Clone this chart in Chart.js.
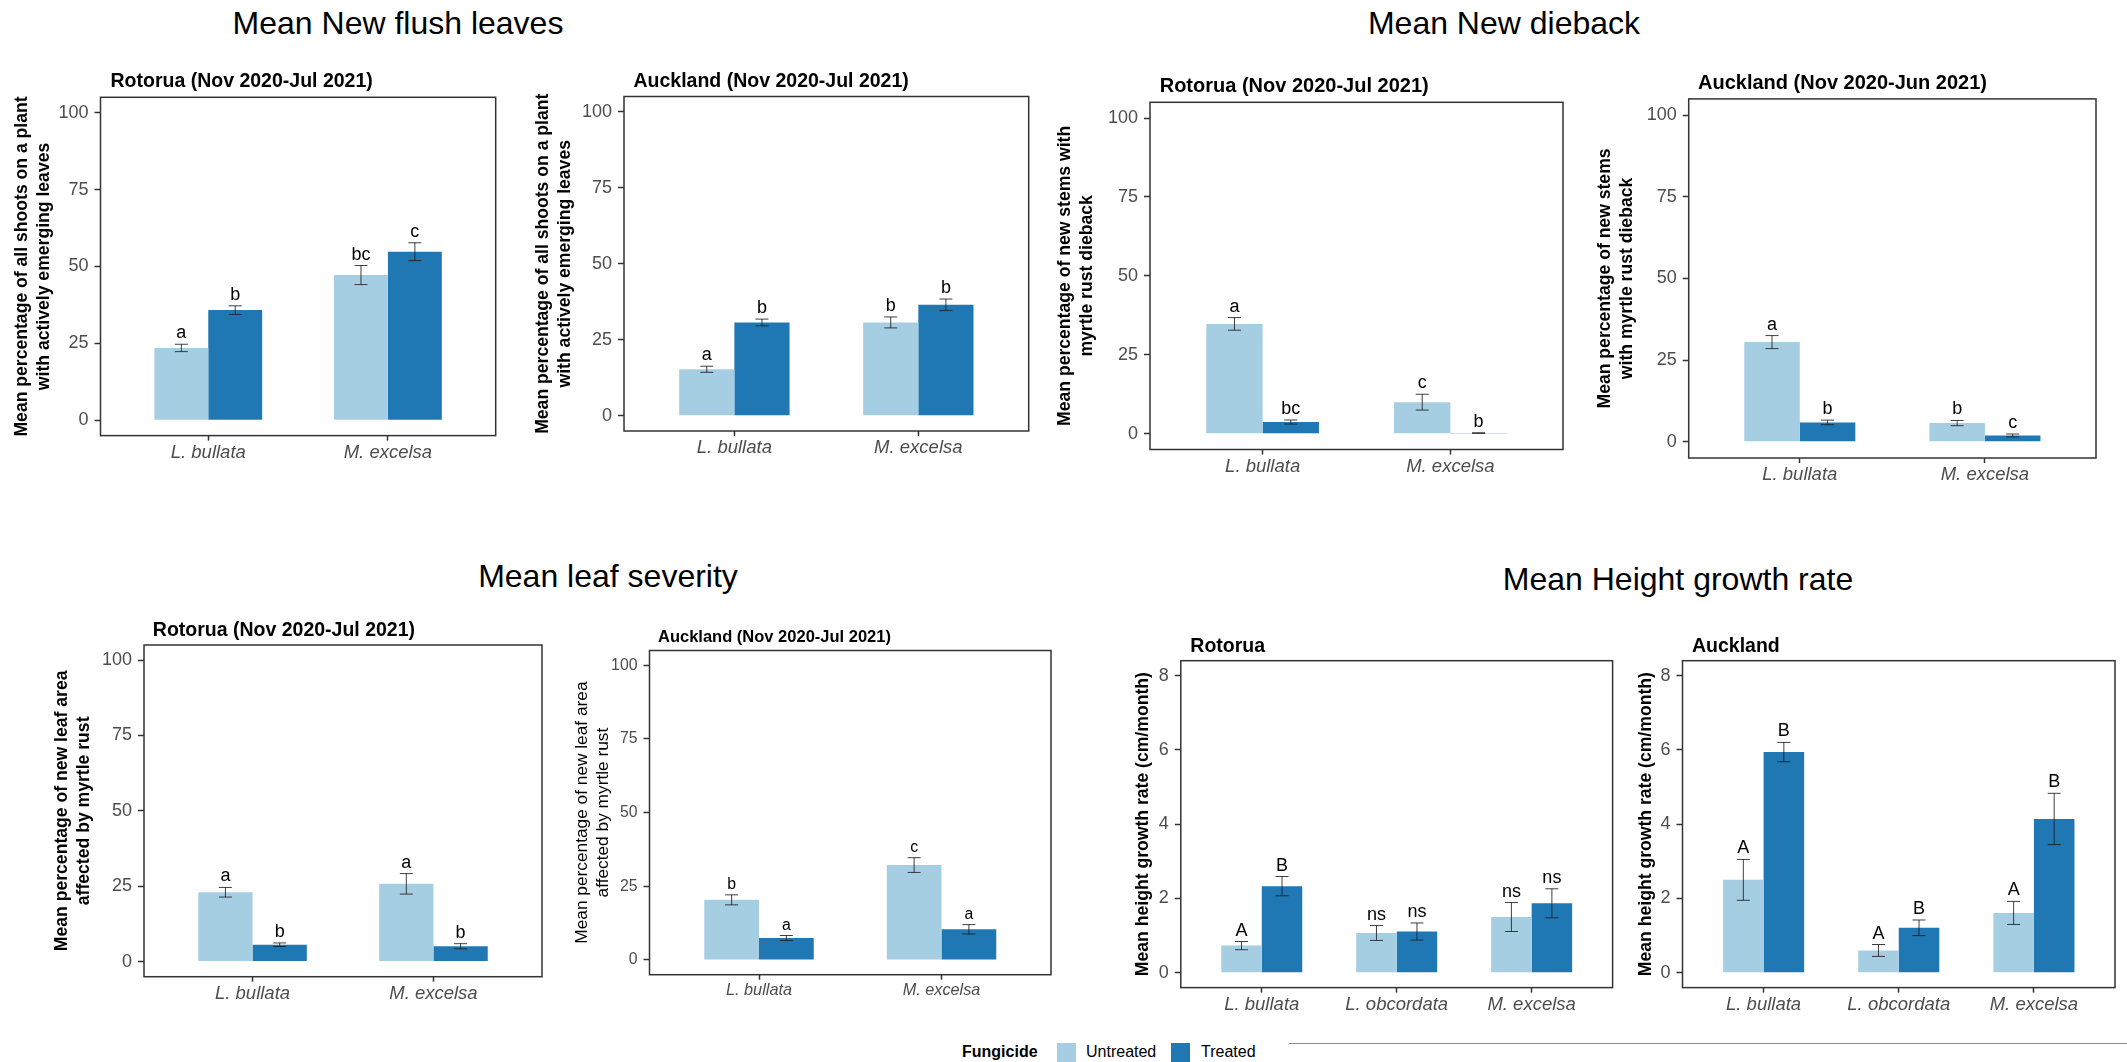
<!DOCTYPE html>
<html>
<head>
<meta charset="utf-8">
<script src="https://cdn.jsdelivr.net/npm/chart.js@4.4.0/dist/chart.umd.min.js"></script>
<style>
  html, body { margin: 0; padding: 0; background: #fff; }
  body { position: relative; width: 2127px; height: 1062px; overflow: hidden; font-family: 'Liberation Sans', Arial, sans-serif; }
  canvas { position: absolute; left: 0; top: 0; }
  .txt { position: absolute; line-height: 0; white-space: nowrap; color: #000; }
  .main { font-size: 32px; transform: translateX(-50%); }
  .swatch { position: absolute; width: 19px; height: 20px; }
</style>
</head>
<body>
<div class="txt main" style="left:398px;top:23px">Mean New flush leaves</div>
<div class="txt main" style="left:1504px;top:23px">Mean New dieback</div>
<div class="txt main" style="left:608px;top:576px">Mean leaf severity</div>
<div class="txt main" style="left:1678px;top:579px">Mean Height growth rate</div>

<div class="txt" style="left:962px;top:1052px;font-size:16px;font-weight:bold">Fungicide</div>
<div class="swatch" style="left:1057px;top:1043px;background:#a6cee3"></div>
<div class="txt" style="left:1086px;top:1052px;font-size:16px">Untreated</div>
<div class="swatch" style="left:1171px;top:1043px;background:#1f78b4"></div>
<div class="txt" style="left:1201px;top:1052px;font-size:16px">Treated</div>
<div style="position:absolute;left:1289px;top:1043px;width:838px;height:1px;background:#8c8c8c"></div>

<script>
const FONT = "'Liberation Sans', Arial, sans-serif";

const seriesNames = ['Untreated', 'Treated'];
const twoSpecies = ['L. bullata', 'M. excelsa'];
const threeSpecies = ['L. bullata', 'L. obcordata', 'M. excelsa'];
const percentTicks = [0, 25, 50, 75, 100];
const growthTicks = [0, 2, 4, 6, 8];

// Mean New flush leaves
const flushRotUntreated = [23.5, 47.2];
const flushRotUntreatedSe = [1.2, 3.1];
const flushRotTreated = [35.8, 54.8];
const flushRotTreatedSe = [1.4, 2.9];
const flushRotLettersU = ['a', 'bc'];
const flushRotLettersT = ['b', 'c'];

const flushAkUntreated = [15.3, 30.7];
const flushAkUntreatedSe = [1.0, 1.8];
const flushAkTreated = [30.7, 36.5];
const flushAkTreatedSe = [1.1, 1.9];
const flushAkLettersU = ['a', 'b'];
const flushAkLettersT = ['b', 'b'];

// Mean New dieback
const diebackRotUntreated = [34.8, 10.0];
const diebackRotUntreatedSe = [2.0, 2.5];
const diebackRotTreated = [3.7, 0.2];
const diebackRotTreatedSe = [0.65, 0.1];
const diebackRotLettersU = ['a', 'c'];
const diebackRotLettersT = ['bc', 'b'];

const diebackAkUntreated = [30.5, 5.7];
const diebackAkUntreatedSe = [2.0, 0.8];
const diebackAkTreated = [5.9, 1.9];
const diebackAkTreatedSe = [0.7, 0.45];
const diebackAkLettersU = ['a', 'b'];
const diebackAkLettersT = ['b', 'c'];

// Mean leaf severity
const severityRotUntreated = [23.0, 25.8];
const severityRotUntreatedSe = [1.6, 3.4];
const severityRotTreated = [5.6, 5.1];
const severityRotTreatedSe = [0.6, 0.85];
const severityRotLettersU = ['a', 'a'];
const severityRotLettersT = ['b', 'b'];

const severityAkUntreated = [20.4, 32.2];
const severityAkUntreatedSe = [1.7, 2.5];
const severityAkTreated = [7.45, 10.4];
const severityAkTreatedSe = [0.85, 1.6];
const severityAkLettersU = ['b', 'c'];
const severityAkLettersT = ['a', 'a'];

// Mean Height growth rate
const growthRotUntreated = [0.73, 1.07, 1.50];
const growthRotUntreatedSe = [0.11, 0.2, 0.39];
const growthRotTreated = [2.33, 1.11, 1.87];
const growthRotTreatedSe = [0.26, 0.23, 0.39];
const growthRotLettersU = ['A', 'ns', 'ns'];
const growthRotLettersT = ['B', 'ns', 'ns'];

const growthAkUntreated = [2.5, 0.6, 1.61];
const growthAkUntreatedSe = [0.55, 0.16, 0.31];
const growthAkTreated = [5.94, 1.21, 4.14];
const growthAkTreatedSe = [0.26, 0.21, 0.69];
const growthAkLettersU = ['A', 'A', 'A'];
const growthAkLettersT = ['B', 'B', 'B'];

const shootsTitle = ['Mean percentage of all shoots on a plant', 'with actively emerging leaves'];
const leafTitle = ['Mean percentage of new leaf area', 'affected by myrtle rust'];
const growthTitle = 'Mean height growth rate (cm/month)';

const W = 2127, H = 1062, X_AXIS_H = 40;

const panels = [
  { cats: twoSpecies, ticks: percentTicks, yMin: -5, yMax: 105,
    vals: [flushRotUntreated, flushRotTreated], errs: [flushRotUntreatedSe, flushRotTreatedSe],
    letters: [flushRotLettersU, flushRotLettersT], yTitle: shootsTitle,
    box: [100.5, 97.3, 495.7, 435.6], titleX: 22.5, sub: 'Rotorua (Nov 2020-Jul 2021)', subX: 110.5, subY: 87, subSize: 19.5, fs: 1, bold: true },
  { cats: twoSpecies, ticks: percentTicks, yMin: -5, yMax: 105,
    vals: [flushAkUntreated, flushAkTreated], errs: [flushAkUntreatedSe, flushAkTreatedSe],
    letters: [flushAkLettersU, flushAkLettersT], yTitle: shootsTitle,
    box: [624, 96.5, 1028.7, 431], titleX: 543, sub: 'Auckland (Nov 2020-Jul 2021)', subX: 633.5, subY: 87, subSize: 19.5, fs: 1, bold: true },
  { cats: twoSpecies, ticks: percentTicks, yMin: -5, yMax: 105,
    vals: [diebackRotUntreated, diebackRotTreated], errs: [diebackRotUntreatedSe, diebackRotTreatedSe],
    letters: [diebackRotLettersU, diebackRotLettersT], yTitle: ['Mean percentage of new stems with', 'myrtle rust dieback'],
    box: [1150, 102.3, 1563, 449.5], titleX: 1065.5, sub: 'Rotorua (Nov 2020-Jul 2021)', subX: 1159.7, subY: 91.5, subSize: 20, fs: 1, bold: true },
  { cats: twoSpecies, ticks: percentTicks, yMin: -5, yMax: 105,
    vals: [diebackAkUntreated, diebackAkTreated], errs: [diebackAkUntreatedSe, diebackAkTreatedSe],
    letters: [diebackAkLettersU, diebackAkLettersT], yTitle: ['Mean percentage of new stems', 'with myrtle rust dieback'],
    box: [1688.7, 98.9, 2096, 458], titleX: 1605.5, sub: 'Auckland (Nov 2020-Jun 2021)', subX: 1698, subY: 88.5, subSize: 20, fs: 1, bold: true },
  { cats: twoSpecies, ticks: percentTicks, yMin: -5, yMax: 105,
    vals: [severityRotUntreated, severityRotTreated], errs: [severityRotUntreatedSe, severityRotTreatedSe],
    letters: [severityRotLettersU, severityRotLettersT], yTitle: leafTitle,
    box: [144, 645, 542, 976.7], titleX: 62.5, sub: 'Rotorua (Nov 2020-Jul 2021)', subX: 152.8, subY: 636, subSize: 19.5, fs: 1, bold: true },
  { cats: twoSpecies, ticks: percentTicks, yMin: -5, yMax: 105,
    vals: [severityAkUntreated, severityAkTreated], errs: [severityAkUntreatedSe, severityAkTreatedSe],
    letters: [severityAkLettersU, severityAkLettersT], yTitle: leafTitle,
    box: [649.5, 650.5, 1051, 974.7], titleX: 582, sub: 'Auckland (Nov 2020-Jul 2021)', subX: 658, subY: 641.5, subSize: 16.5, fs: 0.88, bold: false },
  { cats: threeSpecies, ticks: growthTicks, yMin: -0.4, yMax: 8.4,
    vals: [growthRotUntreated, growthRotTreated], errs: [growthRotUntreatedSe, growthRotTreatedSe],
    letters: [growthRotLettersU, growthRotLettersT], yTitle: growthTitle,
    box: [1180.8, 660.7, 1612.6, 987.6], titleX: 1143.5, sub: 'Rotorua', subX: 1190.3, subY: 652, subSize: 19.5, fs: 1, bold: true },
  { cats: threeSpecies, ticks: growthTicks, yMin: -0.4, yMax: 8.4,
    vals: [growthAkUntreated, growthAkTreated], errs: [growthAkUntreatedSe, growthAkTreatedSe],
    letters: [growthAkLettersU, growthAkLettersT], yTitle: growthTitle,
    box: [1682.5, 660.7, 2115, 987.6], titleX: 1646, sub: 'Auckland', subX: 1692, subY: 652, subSize: 19.5, fs: 1, bold: true }
];

const barColors = ['#a6cee3', '#1f78b4'];

// error bars, letters, panel border and panel subtitle
function decor(p) {
  return {
    id: 'decor',
    afterDatasetsDraw(chart) {
      const ctx = chart.ctx;
      const y = chart.scales.y;
      const a = chart.chartArea;
      ctx.save();
      [0, 1].forEach(d => {
        chart.getDatasetMeta(d).data.forEach((bar, i) => {
          const v = p.vals[d][i], e = p.errs[d][i];
          const top = y.getPixelForValue(v + e);
          const bot = y.getPixelForValue(Math.max(v - e, 0));
          ctx.strokeStyle = 'rgba(30,30,30,0.85)';
          ctx.lineWidth = 1;
          ctx.beginPath();
          ctx.moveTo(bar.x, top); ctx.lineTo(bar.x, bot);
          ctx.moveTo(bar.x - 6.5, top); ctx.lineTo(bar.x + 6.5, top);
          ctx.moveTo(bar.x - 6.5, bot); ctx.lineTo(bar.x + 6.5, bot);
          ctx.stroke();
          ctx.fillStyle = '#000';
          ctx.font = `${18 * p.fs}px ${FONT}`;
          ctx.textAlign = 'center';
          ctx.textBaseline = 'alphabetic';
          ctx.fillText(p.letters[d][i], bar.x, top - 6);
        });
      });
      ctx.strokeStyle = '#333';
      ctx.lineWidth = 1.5;
      ctx.strokeRect(a.left, a.top, a.right - a.left, a.bottom - a.top);
      ctx.fillStyle = '#000';
      ctx.font = `bold ${p.subSize}px ${FONT}`;
      ctx.textAlign = 'left';
      ctx.textBaseline = 'alphabetic';
      ctx.fillText(p.sub, p.subX, p.subY);
      ctx.restore();
    }
  };
}

panels.forEach(p => {
  const canvas = document.createElement('canvas');
  canvas.width = W;
  canvas.height = H;
  document.body.appendChild(canvas);

  const titleSize = p.bold ? 17.6 : 17.3;
  const lh = titleSize * 1.25;
  const axisLeft = p.titleX - lh / 2;

  new Chart(canvas, {
    type: 'bar',
    data: {
      datasets: seriesNames.map((name, d) => ({
        label: name,
        data: p.cats.map((c, i) => ({ x: i + 1, y: p.vals[d][i] })),
        backgroundColor: barColors[d],
        borderWidth: 0,
        categoryPercentage: 0.6,
        barPercentage: 1
      }))
    },
    options: {
      responsive: false,
      animation: false,
      events: [],
      layout: { padding: { left: axisLeft, top: p.box[1], right: W - p.box[2], bottom: H - p.box[3] - X_AXIS_H } },
      plugins: { legend: { display: false }, tooltip: { enabled: false } },
      scales: {
        x: {
          type: 'linear', min: 0.4, max: p.cats.length + 0.6, offset: false, bounds: 'data',
          afterBuildTicks: s => { s.ticks = p.cats.map((c, i) => ({ value: i + 1 })); },
          afterFit: s => { s.height = X_AXIS_H; },
          grid: { drawOnChartArea: false, offset: false, tickLength: 5, tickColor: '#333', tickWidth: 1.5 },
          border: { display: false },
          ticks: {
            autoSkip: false, maxRotation: 0, padding: 1, color: '#4d4d4d',
            font: { family: FONT, size: 18.5 * p.fs, style: 'italic' },
            callback: v => p.cats[v - 1]
          }
        },
        y: {
          min: p.yMin, max: p.yMax, bounds: 'data',
          afterBuildTicks: s => { s.ticks = p.ticks.map(v => ({ value: v })); },
          afterFit: s => { s.width = p.box[0] - axisLeft; },
          grid: { drawOnChartArea: false, tickLength: 6, tickColor: '#333', tickWidth: 1.5 },
          border: { display: false },
          ticks: { padding: 6, color: '#4d4d4d', font: { family: FONT, size: 18 * p.fs } },
          title: {
            display: true, text: p.yTitle, color: '#000', padding: 0,
            font: { family: FONT, size: titleSize, weight: p.bold ? 'bold' : 'normal', lineHeight: 1.25 }
          }
        }
      }
    },
    plugins: [decor(p)]
  });
});
</script>
</body>
</html>
